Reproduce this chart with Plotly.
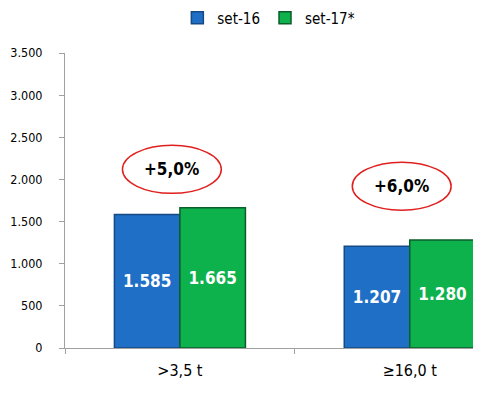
import plotly.graph_objects as go

categories = [">3,5 t", "≥16,0 t"]
series_names = ["set-16", "set-17*"]
set16 = [1585, 1207]
set17 = [1665, 1280]
growth_labels = ["+5,0%", "+6,0%"]
growth_y = [2120, 1920]
y_ticks = [0, 500, 1000, 1500, 2000, 2500, 3000, 3500]

FONT = "DejaVu Sans Condensed, DejaVu Sans, sans-serif"

fig = go.Figure()
fig.add_trace(go.Bar(
    x=categories, y=set16, name=series_names[0],
    marker=dict(color="#1F6FC6", line=dict(color="#164a85", width=1.5)),
    texttemplate="%{y:,}", textposition="inside", insidetextanchor="middle",
    textfont=dict(color="white", size=17, family=FONT, weight="bold"),
))
fig.add_trace(go.Bar(
    x=categories, y=set17, name=series_names[1],
    marker=dict(color="#0DB24C", line=dict(color="#0a5e2a", width=1.5)),
    texttemplate="%{y:,}", textposition="inside", insidetextanchor="middle",
    textfont=dict(color="white", size=17, family=FONT, weight="bold"),
))

shapes = []
annotations = []
for i, (lab, gy) in enumerate(zip(growth_labels, growth_y)):
    shapes.append(dict(type="circle", xref="x", yref="y",
                       x0=i - 0.25, x1=i + 0.18, y0=gy - 285, y1=gy + 285,
                       line=dict(color="#E0201E", width=1.5)))
    annotations.append(dict(x=i - 0.035, y=gy, xref="x", yref="y", text=lab,
                            showarrow=False,
                            font=dict(size=17, color="black", family=FONT, weight="bold")))

# page body has an 8px margin, so the figure is sized/offset to compensate
fig.update_layout(
    width=473, height=389,
    margin=dict(l=57, r=0, t=45, b=49, autoexpand=False),
    plot_bgcolor="white", paper_bgcolor="white",
    separators=",.",
    barmode="group", bargap=0.43, bargroupgap=0,
    font=dict(family=FONT, size=13, color="black"),
    legend=dict(orientation="h", x=0.49, xanchor="center", y=1.0 - 10 / 389,
                yref="container", yanchor="middle",
                font=dict(size=15), traceorder="normal", itemwidth=30),
    shapes=shapes, annotations=annotations,
    xaxis=dict(range=[-0.5, 1.31], showline=True, linecolor="#a0a0a0", linewidth=1,
               ticks="outside", tickson="boundaries", ticklen=5, tickcolor="#a0a0a0",
               tickfont=dict(size=16), showgrid=False, automargin=False,
               ticklabelstandoff=8),
    yaxis=dict(range=[0, 3500], tickvals=y_ticks, tickformat=",d", showline=True,
               linecolor="#a0a0a0", linewidth=1, ticks="outside", ticklen=5,
               tickcolor="#a0a0a0", showgrid=False, zeroline=False,
               tickfont=dict(size=12.5), automargin=False, ticklabelstandoff=14),
)

fig.write_html("out.html")
